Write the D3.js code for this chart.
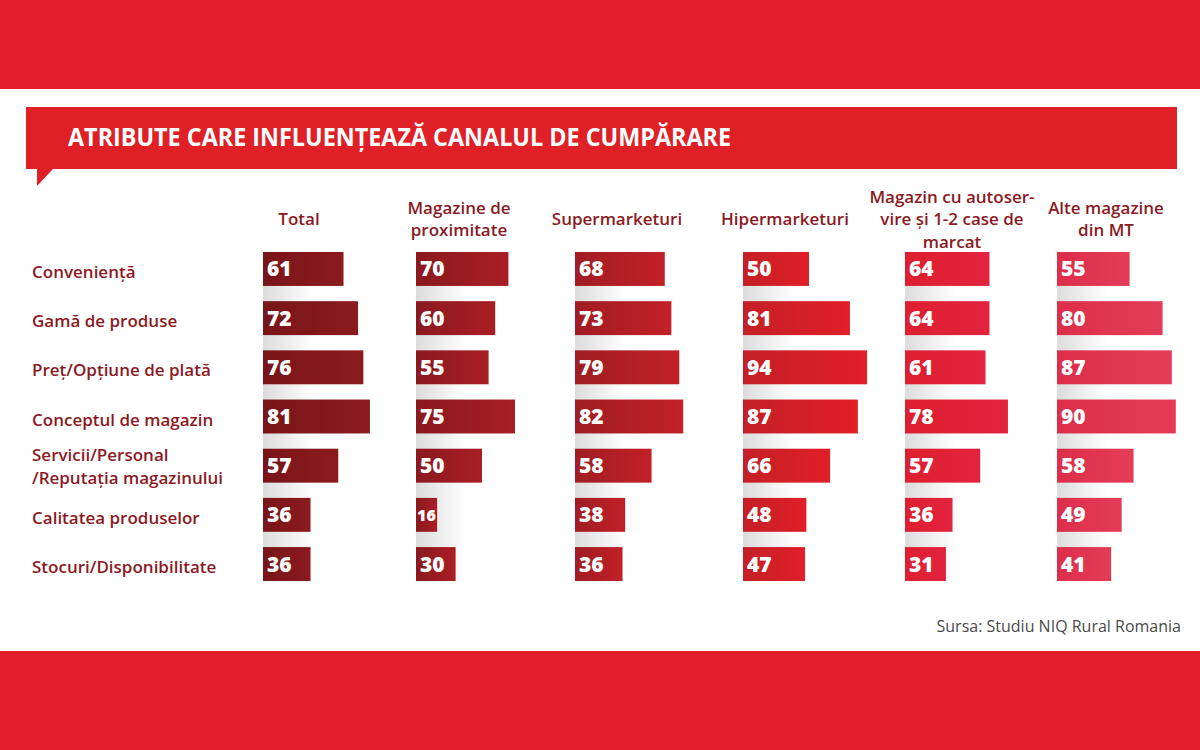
<!DOCTYPE html>
<html><head><meta charset="utf-8">
<script src="https://cdn.jsdelivr.net/npm/d3@7"></script>
<style>body{margin:0;background:#fff}svg{display:block}</style>
</head><body>
<svg id="c" width="1200" height="750"></svg>
<script>
const title = "ATRIBUTE CARE INFLUENȚEAZĂ CANALUL DE CUMPĂRARE";
const source = "Sursa: Studiu NIQ Rural Romania";
const rows = ["Conveniență","Gamă de produse","Preț/Opțiune de plată","Conceptul de magazin","Servicii/Personal\n/Reputația magazinului","Calitatea produselor","Stocuri/Disponibilitate"];
const columns = ["Total","Magazine de\nproximitate","Supermarketuri","Hipermarketuri","Magazin cu autoser-\nvire și 1-2 case de\nmarcat","Alte magazine\ndin MT"];
const totalVals = [61,72,76,81,57,36,36];
const proximitateVals = [70,60,55,75,50,16,30];
const superVals = [68,73,79,82,58,38,36];
const hiperVals = [50,81,94,87,66,48,47];
const autoservireVals = [64,64,61,78,57,36,31];
const alteVals = [55,80,87,90,58,49,41];
const series = [totalVals,proximitateVals,superVals,hiperVals,autoservireVals,alteVals];

const colColors = [["#781519","#8c1a1e"],["#8a191e","#a91e25"],["#a01d23","#c22027"],["#c41f27","#e11f27"],["#dd1f2f","#e3233f"],["#dd2e4a","#e43c58"]];

const svg = d3.select("#c");
const defs = svg.append("defs");
const FONT = "'Open Sans', 'Noto Sans', sans-serif";
const DARK = "#8b1a1f";

// bands
svg.append("rect").attr("x",0).attr("y",0).attr("width",1200).attr("height",89).attr("fill","#e41f2a");
svg.append("rect").attr("x",0).attr("y",651).attr("width",1200).attr("height",99).attr("fill","#e41f2a");

// title banner
svg.append("path").attr("d","M26,107 H1177 V169 H53 L37,186 V169 H26 Z").attr("fill","#df2027");
svg.append("text").attr("x",68).attr("y",146).attr("fill","#fff")
  .attr("font-family",FONT).attr("font-weight",700).attr("font-size",25)
  .attr("textLength",663).attr("lengthAdjust","spacingAndGlyphs").text(title);

const x = d3.scaleLinear().domain([0,100]).range([0,132]);
const colX = d3.scaleOrdinal().domain(columns).range([263,416,575,743,905,1057]);
const headX = d3.scaleOrdinal().domain(columns).range([299,459,617,785,952,1106]);
const y = d3.scaleBand().domain(rows).range([252,581]).paddingInner(0.31).paddingOuter(0);

// grey shading gradient
const gg = defs.append("linearGradient").attr("id","gshade");
gg.append("stop").attr("offset",0).attr("stop-color","#dcdcdc");
gg.append("stop").attr("offset",1).attr("stop-color","#ffffff");

colColors.forEach((c,i)=>{
  const g = defs.append("linearGradient").attr("id","g"+i);
  g.append("stop").attr("offset",0).attr("stop-color",c[0]);
  g.append("stop").attr("offset",1).attr("stop-color",c[1]);
});

// row labels
rows.forEach(r=>{
  const lines = r.split("\n");
  const cy = y(r)+y.bandwidth()/2;
  const t = svg.append("text").attr("font-family",FONT).attr("font-weight",600).attr("font-size",17).attr("fill",DARK);
  lines.forEach((l,k)=>{
    t.append("tspan").attr("x",32).attr("y",cy+(lines.length>1?7:9)+(k-(lines.length-1)/2)*23).text(l);
  });
});

columns.forEach((col,i)=>{
  const x0 = colX(col);
  svg.append("rect").attr("x",x0).attr("y",y(rows[0])).attr("width",50)
    .attr("height",y(rows[rows.length-1])+y.bandwidth()-y(rows[0])).attr("fill","url(#gshade)");
  // header
  const lines = col.split("\n");
  const cx = headX(col);
  const t = svg.append("text").attr("font-family",FONT).attr("font-weight",600).attr("font-size",17)
    .attr("fill",DARK).attr("text-anchor","middle");
  lines.forEach((l,k)=>{
    t.append("tspan").attr("x",cx).attr("y",225+(k-(lines.length-1)/2)*22.5).text(l);
  });
  const g = svg.append("g");
  g.selectAll("rect.bar").data(series[i]).join("rect").attr("class","bar")
    .attr("x",x0).attr("y",(d,j)=>y(rows[j])).attr("width",d=>x(d)).attr("height",y.bandwidth())
    .attr("fill","url(#g"+i+")");
  g.selectAll("text.val").data(series[i]).join("text").attr("class","val")
    .attr("x",d=>x0+(x(d)<30?1:4)).attr("y",(d,j)=>y(rows[j])+y.bandwidth()/2+(x(d)<30?6:7.5))
    .attr("font-family",FONT).attr("font-weight",800).attr("font-size",d=>x(d)<30?16:21).attr("fill","#fff")
    .text(d=>d);
});

svg.append("text").attr("x",1181).attr("y",632).attr("text-anchor","end").attr("font-family",FONT)
  .attr("font-weight",400).attr("font-size",16).attr("fill","#4a4a4a").text(source);
</script>
</body></html>
